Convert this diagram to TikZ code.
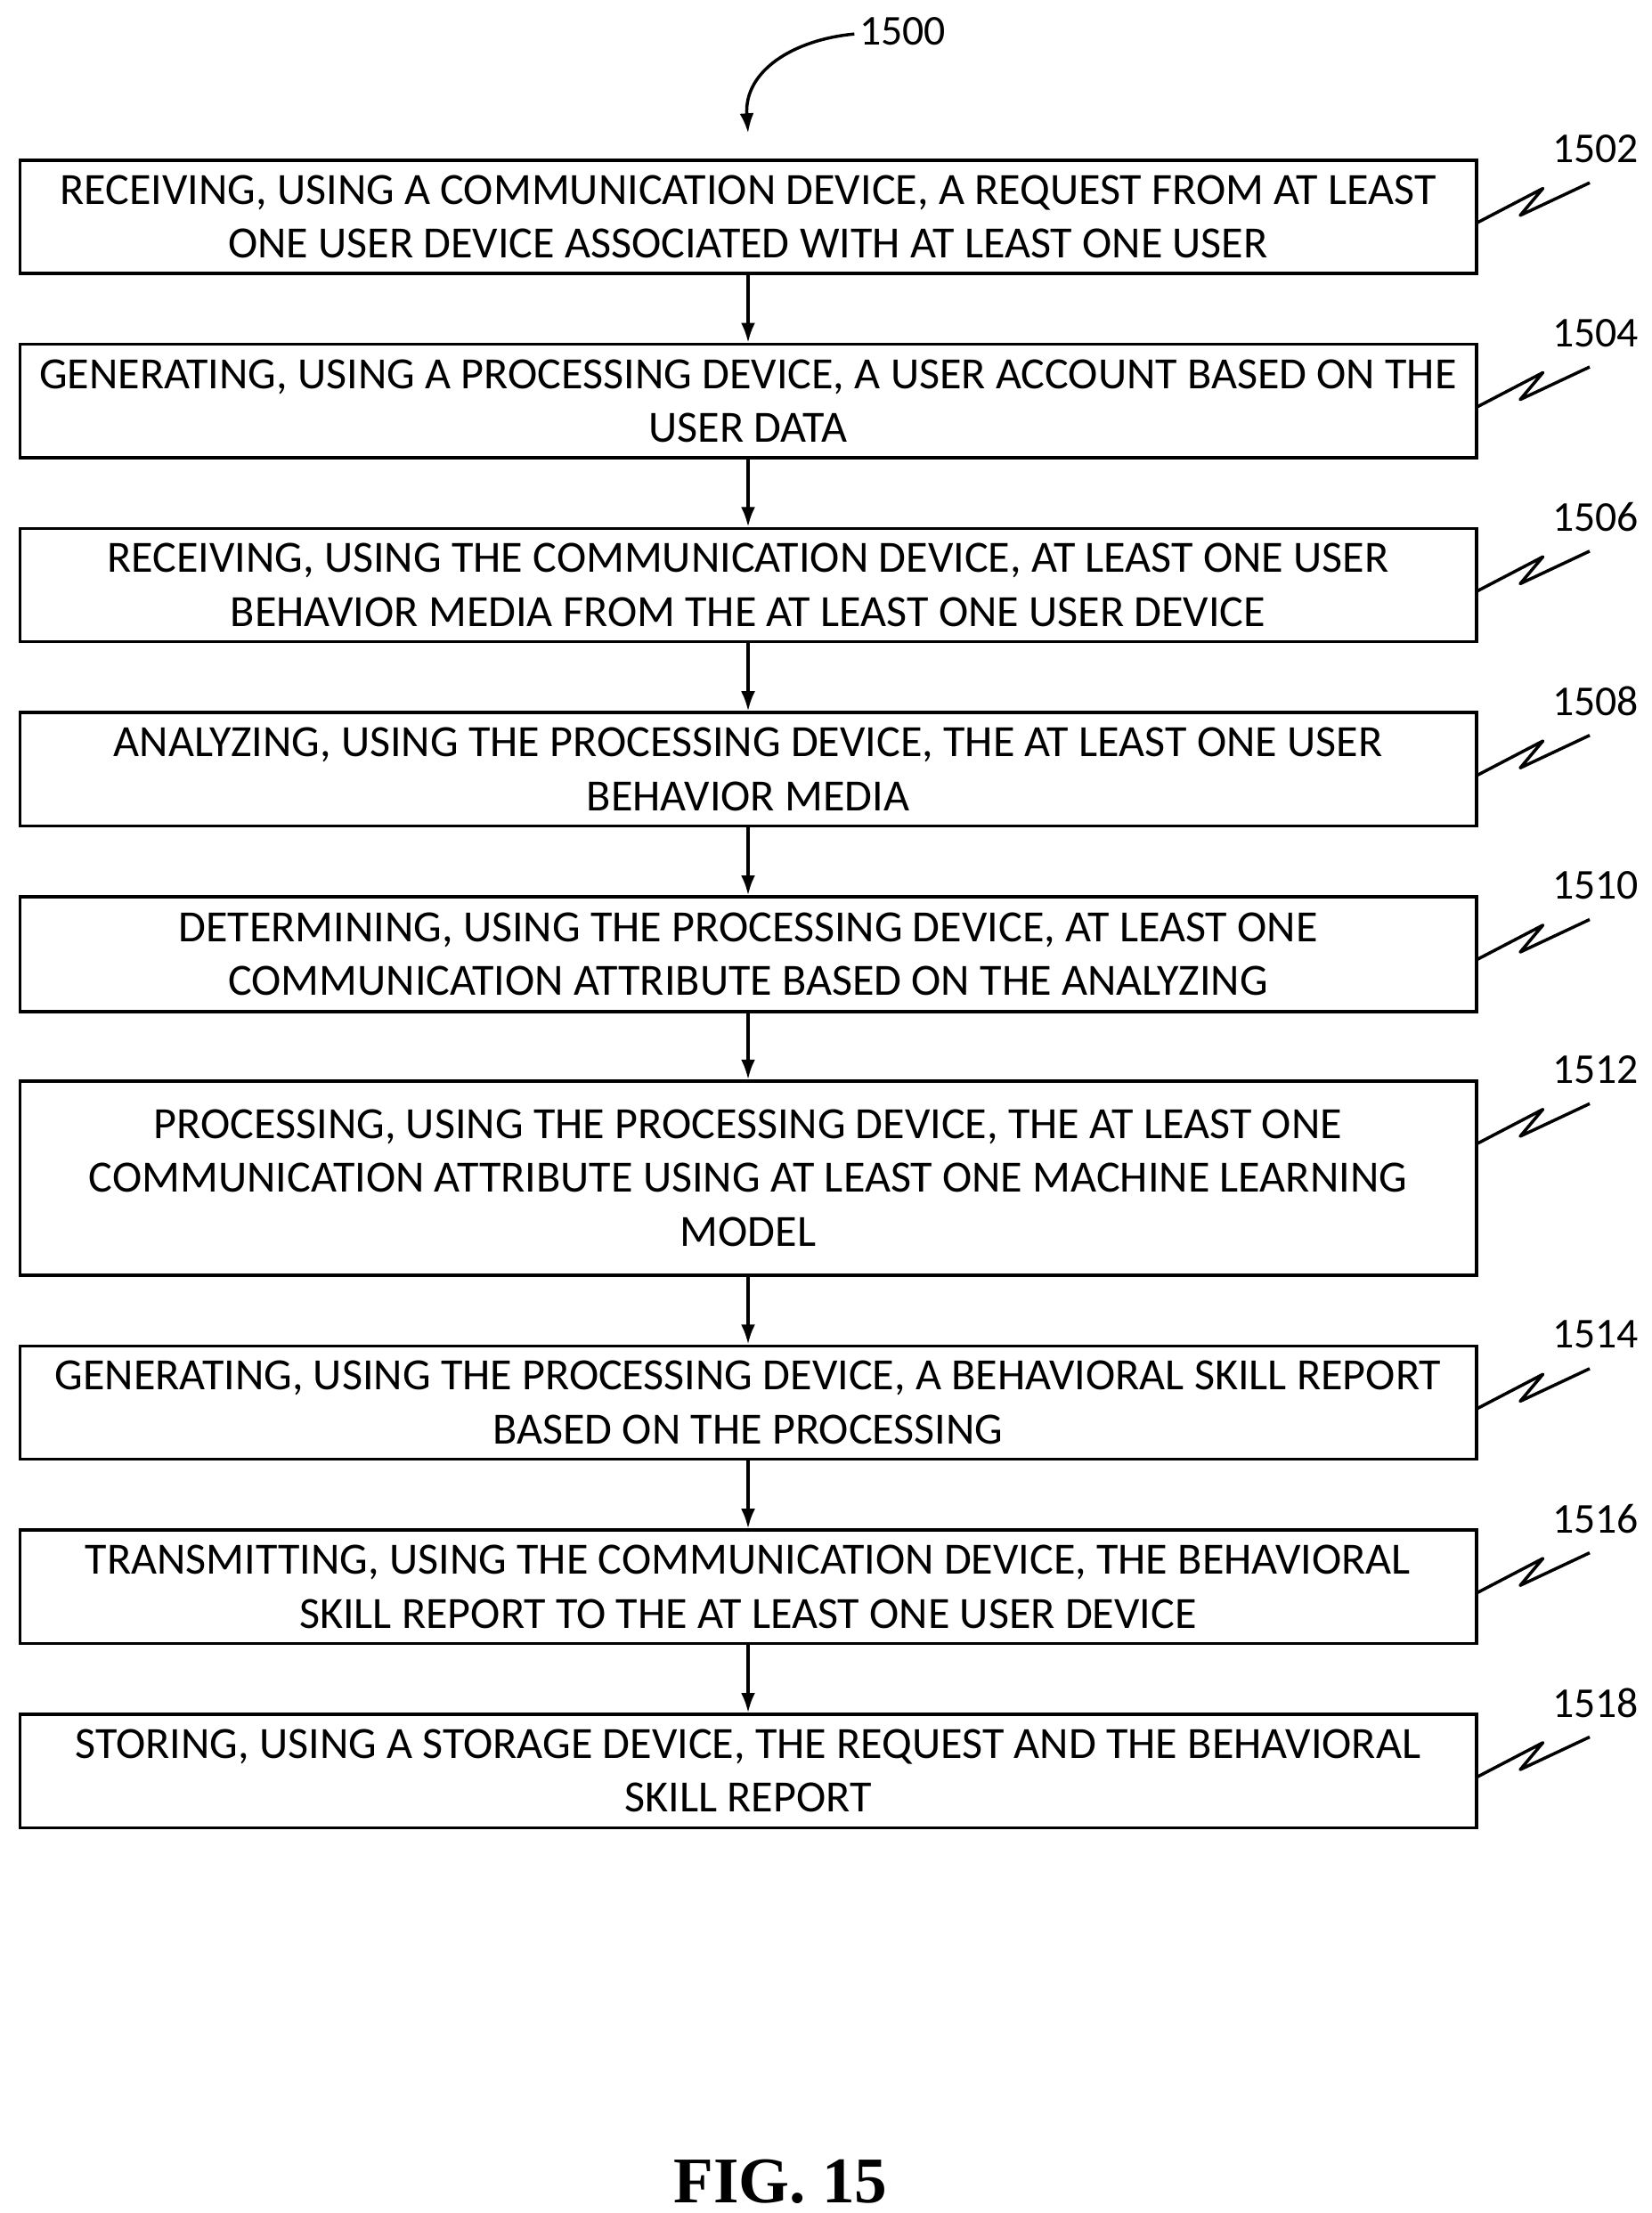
\documentclass[tikz,border=0pt]{standalone}
\usepackage{fontspec}
\setmainfont{Carlito}
\newfontfamily\figfont{Liberation Serif}
\usetikzlibrary{arrows.meta}
\begin{document}
\begin{tikzpicture}[x=1pt,y=-1pt,
  box/.style={draw,line width=2.2pt,minimum width=1028pt,align=center,inner sep=0pt,font=\fontsize{31.5}{38}\selectfont},
  arr/.style={line width=2.2pt,-{Latex[length=14pt,width=10pt]}},
  lab/.style={font=\fontsize{30}{32}\selectfont},
  sq/.style={line width=2.2pt,line join=round}]
\useasboundingbox (0,0) rectangle (1166,1562);
\def\steps{%
 1/112/194/1502/{RECEIVING, USING A COMMUNICATION DEVICE, A REQUEST FROM AT LEAST\\ONE USER DEVICE ASSOCIATED WITH AT LEAST ONE USER},
 2/242/324/1504/{GENERATING, USING A PROCESSING DEVICE, A USER ACCOUNT BASED ON THE\\USER DATA},
 3/372/454/1506/{RECEIVING, USING THE COMMUNICATION DEVICE, AT LEAST ONE USER\\BEHAVIOR MEDIA FROM THE AT LEAST ONE USER DEVICE},
 4/502/584/1508/{ANALYZING, USING THE PROCESSING DEVICE, THE AT LEAST ONE USER\\BEHAVIOR MEDIA},
 5/632/715/1510/{DETERMINING, USING THE PROCESSING DEVICE, AT LEAST ONE\\COMMUNICATION ATTRIBUTE BASED ON THE ANALYZING},
 6/762/901/1512/{PROCESSING, USING THE PROCESSING DEVICE, THE AT LEAST ONE\\COMMUNICATION ATTRIBUTE USING AT LEAST ONE MACHINE LEARNING\\MODEL},
 7/949/1031/1514/{GENERATING, USING THE PROCESSING DEVICE, A BEHAVIORAL SKILL REPORT\\BASED ON THE PROCESSING},
 8/1079/1161/1516/{TRANSMITTING, USING THE COMMUNICATION DEVICE, THE BEHAVIORAL\\SKILL REPORT TO THE AT LEAST ONE USER DEVICE},
 9/1209/1291/1518/{STORING, USING A STORAGE DEVICE, THE REQUEST AND THE BEHAVIORAL\\SKILL REPORT}}
\foreach \i/\t/\b/\n/\txt in \steps {
  \pgfmathsetmacro\h{\b-\t-2}
  \pgfmathsetmacro\m{(\t+\b)/2}
  \node[box,minimum height=\h pt] (b\i) at (528,\m) {\txt};
  \pgfmathsetmacro\ya{\t+45}
  \pgfmathsetmacro\yb{\t+21}
  \pgfmathsetmacro\yc{\t+40}
  \pgfmathsetmacro\yd{\t+17}
  \pgfmathsetmacro\ye{\t-7}
  \coordinate (s\i) at (1043,\ya);
  \draw[sq] (s\i) -- (1089,\yb) -- (1073,\yc) -- (1122,\yd);
  \node[lab] (n\i) at (1126,\ye) {\n};
}
\foreach \i [evaluate=\i as \j using int(\i+1)] in {1,...,8}
  \draw[arr] (b\i.south) -- (b\j.north);
\node[lab] (t) at (637,22) {1500};
\coordinate (c) at (603,24);
\draw[arr] (c) .. controls (560,28) and (525,50) .. (b1.north |- 0,94);
\node[font=\figfont\bfseries\fontsize{46}{50}\selectfont] (fig) at (551,1540) {FIG. 15};
\end{tikzpicture}
\end{document}
